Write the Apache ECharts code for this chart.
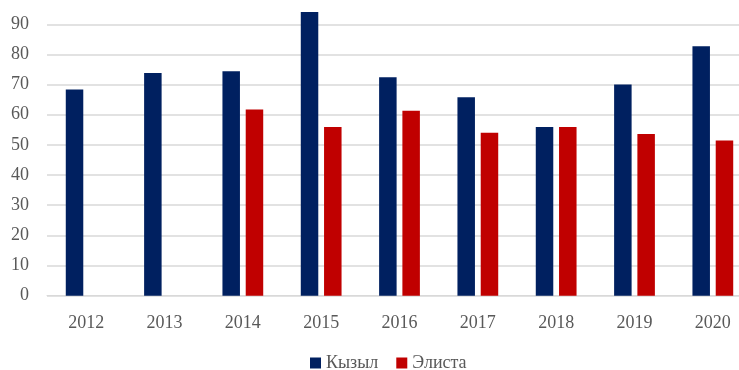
<!DOCTYPE html>
<html>
<head>
<meta charset="utf-8">
<script src="https://cdn.jsdelivr.net/npm/echarts@6/dist/echarts.min.js"></script>
<style>
  html, body { margin: 0; padding: 0; background: #ffffff; }
  #chart { width: 739px; height: 370px; }
</style>
</head>
<body>
<div id="chart"></div>
<script>
// Годы наблюдений
const years = ['2012', '2013', '2014', '2015', '2016', '2017', '2018', '2019', '2020'];
// Значения по городам
const kyzyl = [68.4, 73.8, 74.4, 94.1, 72.4, 65.8, 55.9, 70.0, 82.7];
const elista = [null, null, 61.7, 55.9, 61.3, 54.0, 55.9, 53.6, 51.5];
// Шкала значений
const yMin = 0;
const yMax = 100;
const yStep = 10;

const textColor = '#595959';
const fontFamily = '"Liberation Serif", "DejaVu Serif", serif';

const chart = echarts.init(document.getElementById('chart'), null, { renderer: 'canvas' });
chart.setOption({
  animation: false,
  backgroundColor: '#ffffff',
  textStyle: { fontFamily: fontFamily },
  // область построения шире окна: правый край и линия «100» уходят за рамку
  grid: {
    left: 47, width: 705, bottom: 74.3, height: 301.6,
    containLabel: false,
    outerBoundsMode: 'none'
  },
  legend: {
    left: 310,
    top: 354,
    padding: 0,
    itemWidth: 11,
    itemHeight: 11,
    itemGap: 18,
    icon: 'rect',
    textStyle: { color: textColor, fontSize: 18, fontFamily: fontFamily },
    data: ['Кызыл', 'Элиста']
  },
  xAxis: {
    type: 'category',
    data: years,
    axisLine: { show: true, lineStyle: { color: '#d9d9d9', width: 1 } },
    axisTick: { show: false },
    axisLabel: { color: textColor, fontSize: 18, fontFamily: fontFamily, margin: 19 }
  },
  yAxis: {
    type: 'value',
    min: yMin,
    max: yMax,
    interval: yStep,
    axisLine: { show: false },
    axisTick: { show: false },
    axisLabel: { color: textColor, fontSize: 18, fontFamily: fontFamily, margin: 18, showMaxLabel: false },
    splitLine: { lineStyle: { color: '#d9d9d9', width: 1.5 } }
  },
  series: [
    {
      name: 'Кызыл',
      type: 'bar',
      data: kyzyl,
      barWidth: 17.5,
      barGap: '33%',
      itemStyle: { color: '#002060' }
    },
    {
      name: 'Элиста',
      type: 'bar',
      data: elista,
      barWidth: 17.5,
      barGap: '33%',
      itemStyle: { color: '#c00000' }
    }
  ]
});
</script>
</body>
</html>
